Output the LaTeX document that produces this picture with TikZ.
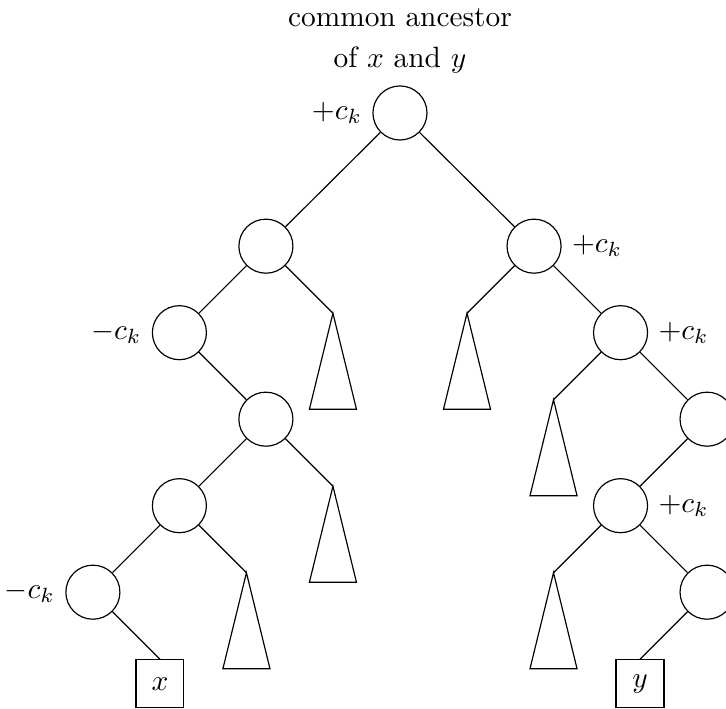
\documentclass[tikz,border=0pt]{standalone}
\usepackage{amsmath,amssymb}
\usepackage{tikz}
\usetikzlibrary{%
  calc,%
  positioning%
}
\tikzset{
  vertex/.style={circle,draw,inner sep=0pt,minimum size=18.4pt},
  leaf/.style={rectangle,draw,inner sep=0pt,minimum size=16.3pt,anchor=north}
}
% a subtree hanging from its apex
\newcommand{\subtree}[1]{\draw (#1) -- ++(-.272,-1.11) -- ++(.544,0) -- cycle;}

\begin{document}
\begin{tikzpicture}[x=1.035cm,y=1.035cm]
\useasboundingbox (-4.624,-6.890) rectangle (3.769,1.306);
% the path down to x
\node[vertex] (r) at (0,0) {};
\node[vertex] (a) at (-1.55,-1.54) {};
\node[vertex] (c) at (-2.55,-2.54) {};
\node[vertex] (d) at (-1.55,-3.54) {};
\node[vertex] (e) at (-2.55,-4.54) {};
\node[vertex] (f) at (-3.55,-5.54) {};
\node[leaf] (x) at (-2.775,-6.315) {$x$};
% the path down to y
\node[vertex] (b) at (1.55,-1.54) {};
\node[vertex] (g) at (2.55,-2.54) {};
\node[vertex] (h) at (3.55,-3.54) {};
\node[vertex] (i) at (2.55,-4.54) {};
\node[vertex] (j) at (3.55,-5.54) {};
\node[leaf] (y) at (2.775,-6.315) {$y$};
% apexes of the subtrees
\coordinate (ta) at (-.775,-2.315);
\coordinate (td) at (-.775,-4.315);
\coordinate (te) at (-1.775,-5.315);
\coordinate (tb) at (.775,-2.315);
\coordinate (tg) at (1.775,-3.315);
\coordinate (ti) at (1.775,-5.315);

\node[align=center,anchor=south] (anc) at (0,.342)
  {common ancestor\\[2pt] of $x$ and $y$};
\node[left=0pt of r] (wr) {$+c_k$};
\node[left=0pt of c] (wc) {$-c_k$};
\node[left=0pt of f] (wf) {$-c_k$};
\node[right=0pt of b] (wb) {$+c_k$};
\node[right=0pt of g] (wg) {$+c_k$};
\node[right=0pt of i] (wi) {$+c_k$};

\draw (r) edge (a)
      (r) edge (b)
      (a) edge (c)
      (a) edge (ta)
      (c) edge (d)
      (d) edge (e)
      (d) edge (td)
      (e) edge (f)
      (e) edge (te)
      (f) edge (x.north)
      (b) edge (tb)
      (b) edge (g)
      (g) edge (tg)
      (g) edge (h)
      (h) edge (i)
      (i) edge (ti)
      (i) edge (j)
      (j) edge (y.north)
;
\foreach \t in {ta,td,te,tb,tg,ti}
  {\subtree{\t}}
\end{tikzpicture}
\end{document}
